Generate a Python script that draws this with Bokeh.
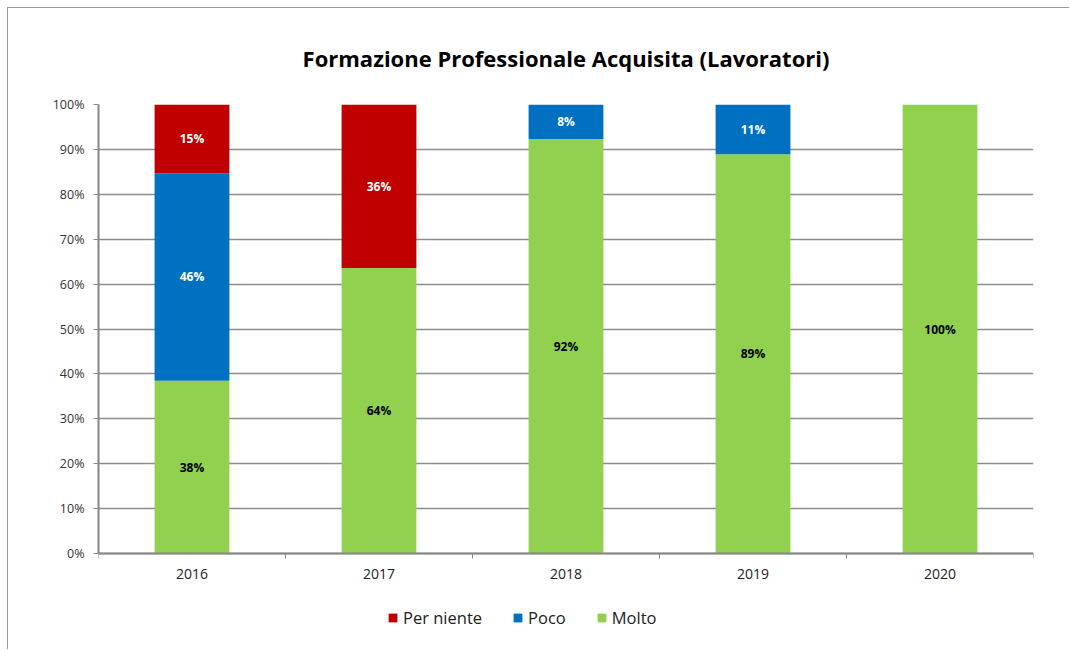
from bokeh.plotting import figure
from bokeh.models import (Range1d, FixedTicker, PrintfTickFormatter, Legend, LegendItem,
                          ColumnDataSource, Title)
from bokeh.core.properties import value
from bokeh.embed import file_html
from bokeh.resources import INLINE

years = ["2016", "2017", "2018", "2019", "2020"]
molto = [38.5, 63.6, 92.3, 88.9, 100.0]
poco = [46.2, 0.0, 7.7, 11.1, 0.0]
per_niente = [15.4, 36.4, 0.0, 0.0, 0.0]

series_names = ["Molto", "Poco", "Per niente"]
colors = {"Molto": "#92D050", "Poco": "#0070C0", "Per niente": "#C00000"}
label_colors = {"Molto": "black", "Poco": "white", "Per niente": "white"}

FONT = "Open Sans"

xs = [i + 0.5 for i in range(len(years))]
src = ColumnDataSource(dict(x=xs, Molto=molto, Poco=poco, **{"Per niente": per_niente}))

# frame extends below 0 to leave room for the axis labels and legend
p = figure(width=1062, height=642, output_backend="svg", toolbar_location=None,
           x_range=Range1d(0, len(years)), y_range=Range1d(-21.6, 100),
           min_border_left=90, min_border_right=37, min_border_top=96, min_border_bottom=0)
p.outline_line_color = None
p.styles = {"border-left": "1px solid #9a9a9a", "border-top": "1px solid #9a9a9a",
            "margin-left": "7px", "margin-top": "7px"}

renderers = p.vbar_stack(series_names, x="x", width=0.4, source=src,
                         color=[colors[s] for s in series_names], line_color=None)

# data labels
series_vals = {"Molto": molto, "Poco": poco, "Per niente": per_niente}
base = [0.0] * len(years)
for s in series_names:
    vals = series_vals[s]
    lx, ly, lt = [], [], []
    for i, v in enumerate(vals):
        if v > 0:
            lx.append(xs[i])
            ly.append(base[i] + v / 2)
            lt.append(f"{round(v):d}%")
        base[i] += v
    p.text(x=lx, y=ly, text=lt, text_align="center", text_baseline="middle",
           text_font=value(FONT), text_font_style="bold", text_font_size="12px",
           text_color=label_colors[s])

# title
t = Title(text="Formazione Professionale Acquisita (Lavoratori)", align="center",
          text_font=FONT, text_font_style="bold", text_font_size="22px",
          text_color="black", offset=-35, standoff=63)
p.add_layout(t, "above")

# axes
ticks_y = list(range(0, 101, 10))
p.yaxis.ticker = FixedTicker(ticks=ticks_y)
p.yaxis.bounds = (0, 100)
p.yaxis.formatter = PrintfTickFormatter(format="%d%%")
p.yaxis.axis_line_color = "#868686"
p.yaxis.axis_line_width = 2
p.yaxis.major_tick_line_color = "#868686"
p.yaxis.major_tick_out = 5
p.yaxis.major_tick_in = 0
p.yaxis.minor_tick_line_color = None
p.yaxis.major_label_text_font = FONT
p.yaxis.major_label_text_font_size = "12.5px"
p.yaxis.major_label_text_color = "#333333"
p.yaxis.major_label_standoff = 9

p.xaxis.fixed_location = 0
p.xaxis.ticker = FixedTicker(ticks=xs, minor_ticks=list(range(0, len(years) + 1)))
p.xaxis.major_label_overrides = {x: y for x, y in zip(xs, years)}
p.xaxis.axis_line_color = "#868686"
p.xaxis.axis_line_width = 2
p.xaxis.major_tick_line_color = None
p.xaxis.minor_tick_line_color = "#868686"
p.xaxis.minor_tick_out = 5
p.xaxis.minor_tick_in = 0
p.xaxis.major_label_text_font = FONT
p.xaxis.major_label_text_font_size = "14px"
p.xaxis.major_label_text_color = "#222222"
p.xaxis.major_label_standoff = 9

p.xgrid.grid_line_color = None
p.ygrid.grid_line_color = "#8c8c8c"
p.ygrid.grid_line_width = 1.5
p.ygrid.ticker = FixedTicker(ticks=ticks_y)

# legend
order = ["Per niente", "Poco", "Molto"]
items = [LegendItem(label=s, renderers=[renderers[series_names.index(s)]]) for s in order]
legend = Legend(items=items, orientation="horizontal", location=(289, 21),
                glyph_width=11, glyph_height=11, label_standoff=5, spacing=30,
                label_text_font=FONT, label_text_font_size="16.5px",
                label_text_color="#222222", border_line_color=None,
                background_fill_alpha=0, padding=0, margin=0)
p.add_layout(legend, "center")

open("out.html", "w").write(file_html(p, INLINE))
